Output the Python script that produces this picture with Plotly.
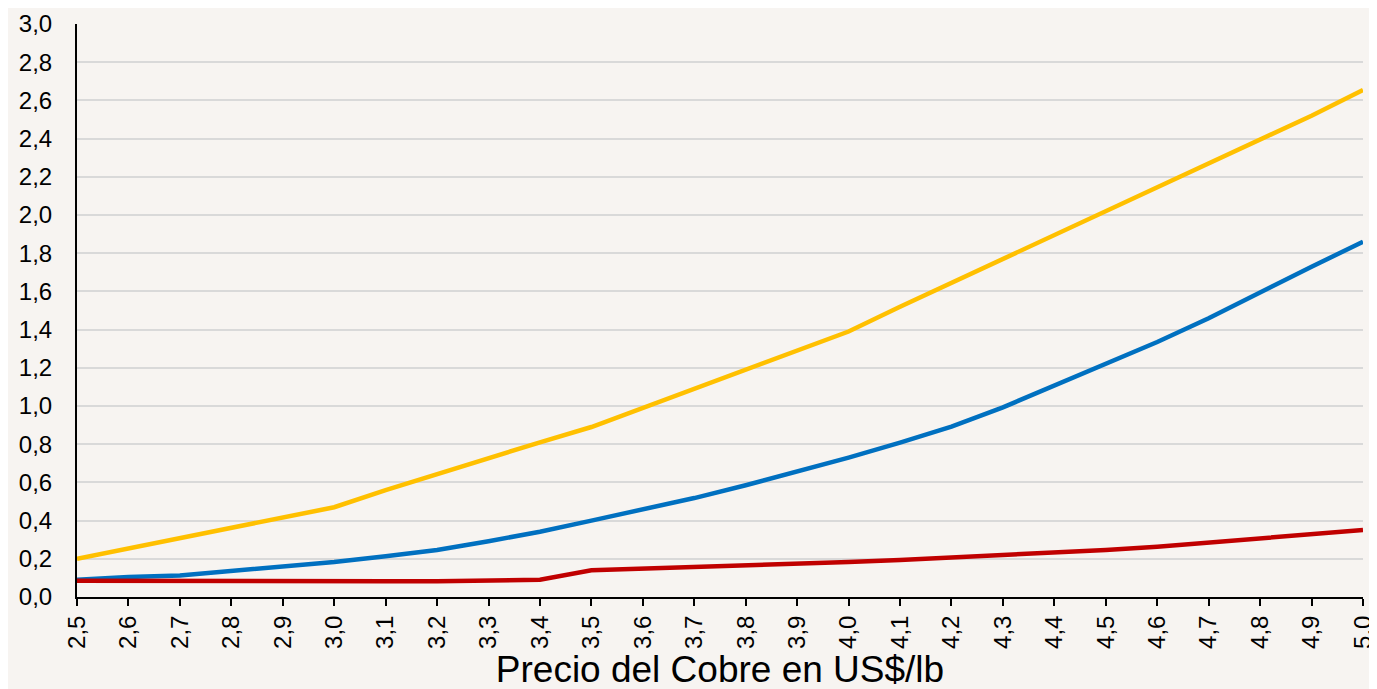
import plotly.graph_objects as go

precio = [2.5, 2.6, 2.7, 2.8, 2.9, 3.0, 3.1, 3.2, 3.3, 3.4, 3.5, 3.6, 3.7,
          3.8, 3.9, 4.0, 4.1, 4.2, 4.3, 4.4, 4.5, 4.6, 4.7, 4.8, 4.9, 5.0]

serie_amarilla = [0.20, 0.255, 0.31, 0.363, 0.417, 0.47, 0.56, 0.645, 0.73, 0.81,
                  0.89, 0.99, 1.09, 1.19, 1.29, 1.39, 1.52, 1.645, 1.77, 1.895,
                  2.02, 2.145, 2.27, 2.395, 2.52, 2.655]

serie_azul = [0.09, 0.105, 0.113, 0.135, 0.16, 0.183, 0.213, 0.246, 0.292, 0.342,
              0.40, 0.459, 0.518, 0.585, 0.656, 0.73, 0.808, 0.892, 0.993, 1.105,
              1.22, 1.335, 1.459, 1.595, 1.729, 1.86]

serie_roja = [0.085, 0.084, 0.081, 0.081, 0.082, 0.082, 0.082, 0.083, 0.086, 0.09,
              0.14, 0.148, 0.157, 0.165, 0.174, 0.183, 0.194, 0.206, 0.219, 0.233,
              0.246, 0.263, 0.284, 0.306, 0.328, 0.351]

ticks_x = [f"{v:.1f}".replace(".", ",") for v in precio]
ticks_y_vals = [i / 10 for i in range(0, 31, 2)]
ticks_y = [f"{v:.1f}".replace(".", ",") for v in ticks_y_vals]

fig = go.Figure()
for ys, color in [(serie_amarilla, "#FFC000"), (serie_azul, "#0070C0"), (serie_roja, "#C00000")]:
    fig.add_trace(go.Scatter(x=precio, y=ys, mode="lines",
                             line=dict(color=color, width=4.5), showlegend=False,
                             hoverinfo="skip"))

bg = "#F7F4F1"
fig.update_layout(
    width=1377, height=689,
    paper_bgcolor=bg, plot_bgcolor=bg,
    margin=dict(l=69, r=22, t=16, b=100, autoexpand=False),
    font=dict(family="Liberation Sans, Arial, sans-serif", color="#000000", size=24),
    showlegend=False,
)
fig.update_xaxes(
    range=[2.5, 5.0], tickmode="array", tickvals=precio, ticktext=ticks_x,
    tickangle=-90, tickfont=dict(size=24), ticks="outside", ticklen=7,
    tickwidth=1.5, tickcolor="#000000", automargin=False,
    showline=True, linecolor="#000000", linewidth=2, showgrid=False, zeroline=False,
    title=dict(text="Precio del Cobre en US$/lb", font=dict(size=37), standoff=0),
)
fig.update_yaxes(
    range=[0, 3.0], tickmode="array", tickvals=ticks_y_vals, ticktext=ticks_y,
    tickfont=dict(size=24), ticks="", showline=True, linecolor="#000000", linewidth=2,
    showgrid=True, gridcolor="#D9D9D9", gridwidth=1.5, zeroline=False,
    ticklabelstandoff=18, automargin=False,
)

fig.write_html("out.html")
